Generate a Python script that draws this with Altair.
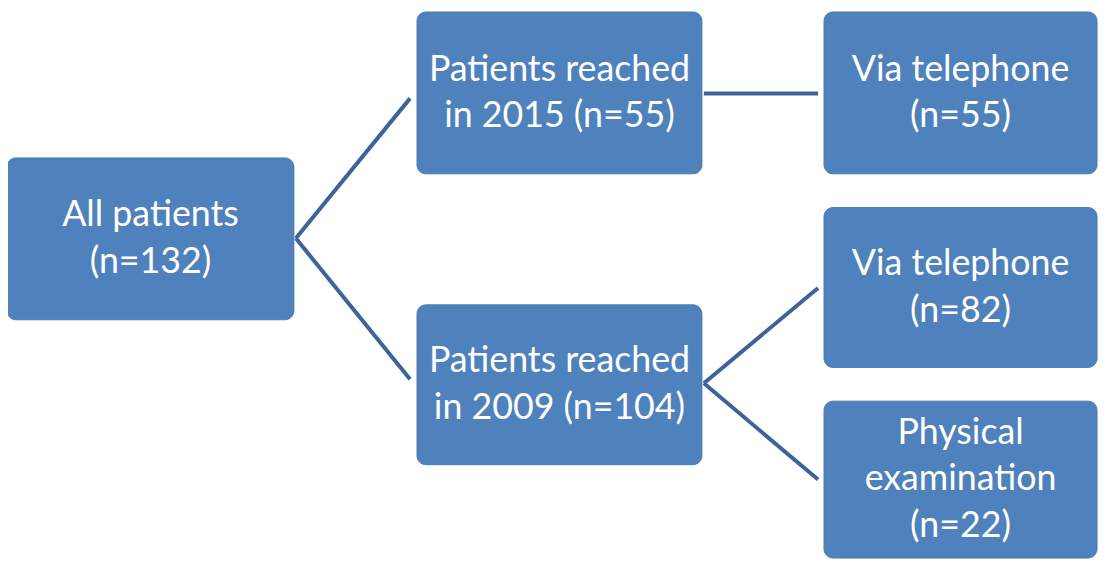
import altair as alt
import pandas as pd

# Nodes of the flow diagram
node_labels = [
    ["All patients", "(n=132)"],
    ["Patients reached", "in 2015 (n=55)"],
    ["Via telephone", "(n=55)"],
    ["Patients reached", "in 2009 (n=104)"],
    ["Via telephone", "(n=82)"],
    ["Physical", "examination", "(n=22)"],
]
node_x0 = [7, 420, 830, 420, 830, 830]
node_x1 = [296, 707, 1105, 707, 1105, 1105]
node_y0 = [157, 10, 10, 305, 207, 402]
node_y1 = [320, 173, 173, 466, 368, 560]

# Connectors (from -> to)
edge_x0 = [298, 298, 709, 709, 709]
edge_y0 = [238, 238, 92, 384, 384]
edge_x1 = [413, 413, 824, 824, 824]
edge_y1 = [97, 380, 92, 288, 481]

LINE_H = 47

nodes = pd.DataFrame({
    "x0": node_x0, "x1": node_x1, "y0": node_y0, "y1": node_y1,
})

rows = []
for i, lab in enumerate(node_labels):
    cx = (node_x0[i] + node_x1[i]) / 2
    cy = (node_y0[i] + node_y1[i]) / 2
    n = len(lab)
    for j, line in enumerate(lab):
        rows.append({"text": line, "cx": cx, "cy": cy + (j - (n - 1) / 2) * LINE_H})
labels = pd.DataFrame(rows)

edges = pd.DataFrame({"x0": edge_x0, "y0": edge_y0, "x1": edge_x1, "y1": edge_y1})

xs = alt.Scale(domain=[8, 1108], nice=False, zero=False)
ys = alt.Scale(domain=[8, 563], nice=False, zero=False, reverse=True)
noax = None

lines = alt.Chart(edges).mark_rule(color="#3D6498", strokeWidth=4, clip=True).encode(
    x=alt.X("x0:Q", scale=xs, axis=noax),
    y=alt.Y("y0:Q", scale=ys, axis=noax),
    x2="x1:Q",
    y2="y1:Q",
)

boxes = alt.Chart(nodes).mark_rect(
    color="#4F81BD", cornerRadius=9, stroke="#4A7AB5", strokeWidth=1, clip=True
).encode(
    x=alt.X("x0:Q", scale=xs, axis=noax),
    x2="x1:Q",
    y=alt.Y("y0:Q", scale=ys, axis=noax),
    y2="y1:Q",
)

texts = alt.Chart(labels).mark_text(
    color="white", font="Lato", fontSize=36,
    align="center", baseline="middle", clip=True,
).encode(
    x=alt.X("cx:Q", scale=xs, axis=noax),
    y=alt.Y("cy:Q", scale=ys, axis=noax),
    text="text:N",
)

chart = alt.layer(lines, boxes, texts).properties(
    width=1100, height=555, padding=0,
    autosize=alt.AutoSizeParams(type="none"),
    background="white",
).configure_view(stroke=None)

chart.save("out.html", embed_options={"renderer": "svg", "actions": False})
